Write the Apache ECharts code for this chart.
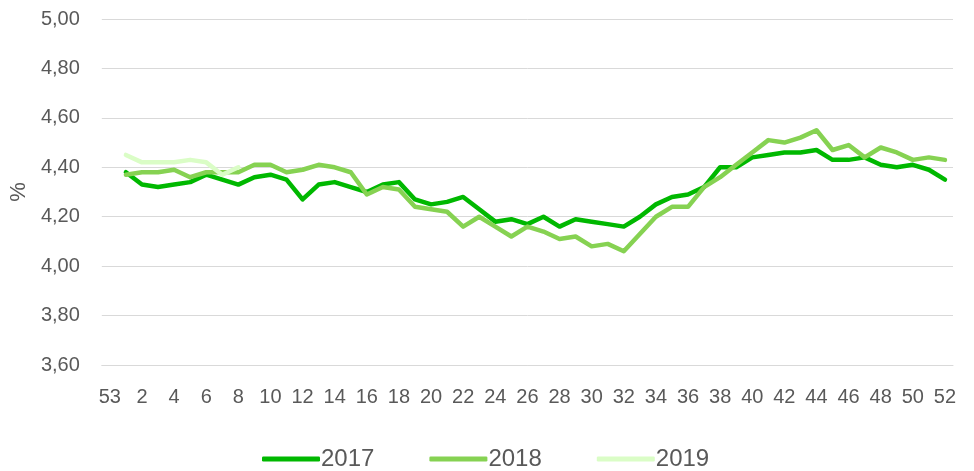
<!DOCTYPE html>
<html>
<head>
<meta charset="utf-8">
<script src="https://cdn.jsdelivr.net/npm/echarts@6/dist/echarts.min.js"></script>
<style>
  html, body { margin: 0; padding: 0; background: #fff; }
  #div_chart { width: 974px; height: 471px; }
</style>
</head>
<body>
<div id="div_chart"></div>
<script>
"use strict";

// week numbers on the x axis (53 = last week of previous year)
const weeks = ["53", "1", "2", "3", "4", "5", "6", "7", "8", "9", "10",
  "11", "12", "13", "14", "15", "16", "17", "18", "19", "20",
  "21", "22", "23", "24", "25", "26", "27", "28", "29", "30",
  "31", "32", "33", "34", "35", "36", "37", "38", "39", "40",
  "41", "42", "43", "44", "45", "46", "47", "48", "49", "50",
  "51", "52"];

const data_2017 = [null,
  4.38, 4.33, 4.32, 4.33, 4.34, 4.37, 4.35, 4.33, 4.36, 4.37,
  4.35, 4.27, 4.33, 4.34, 4.32, 4.30, 4.33, 4.34, 4.27, 4.25,
  4.26, 4.28, 4.23, 4.18, 4.19, 4.17, 4.20, 4.16, 4.19, 4.18,
  4.17, 4.16, 4.20, 4.25, 4.28, 4.29, 4.32, 4.40, 4.40, 4.44,
  4.45, 4.46, 4.46, 4.47, 4.43, 4.43, 4.44, 4.41, 4.40, 4.41,
  4.39, 4.35];

const data_2018 = [null,
  4.37, 4.38, 4.38, 4.39, 4.36, 4.38, 4.38, 4.38, 4.41, 4.41,
  4.38, 4.39, 4.41, 4.40, 4.38, 4.29, 4.32, 4.31, 4.24, 4.23,
  4.22, 4.16, 4.20, 4.16, 4.12, 4.16, 4.14, 4.11, 4.12, 4.08,
  4.09, 4.06, 4.13, 4.20, 4.24, 4.24, 4.32, 4.36, 4.41, 4.46,
  4.51, 4.50, 4.52, 4.55, 4.47, 4.49, 4.44, 4.48, 4.46, 4.43,
  4.44, 4.43];

const data_2019 = [null,
  4.45, 4.42, 4.42, 4.42, 4.43, 4.42, 4.37, 4.40];

const series_names = ["2017", "2018", "2019"];
const series_colors = ["#00b800", "#86d252", "#dafdc6"];
const series_data = [data_2017, data_2018, data_2019];

const html_div_chart = document.getElementById("div_chart");
const chart = echarts.init(html_div_chart);

const font = "'Liberation Sans', Arial, sans-serif";

const series = [];
for (let i = 0; i < series_names.length; i++) {
  series.push({
    type: "line",
    name: series_names[i],
    data: series_data[i],
    showSymbol: false,
    symbol: "none",
    lineStyle: { width: 4.5, color: series_colors[i], cap: "round", join: "round" },
    itemStyle: { color: series_colors[i] },
    animation: false,
  });
}

chart.setOption({
  animation: false,
  grid: { left: 90, right: 21, top: 19, bottom: 106, containLabel: false },
  legend: {
    left: 257,
    top: 442,
    itemWidth: 58,
    itemHeight: 5,
    itemGap: 55,
    icon: "roundRect",
    textStyle: { fontFamily: font, fontSize: 24, color: "#595959", padding: [0, 0, 0, -4] },
    data: series_names,
  },
  xAxis: {
    type: "category",
    data: weeks,
    boundaryGap: true,
    axisLine: { lineStyle: { color: "#d9d9d9", width: 1 } },
    axisTick: { show: false },
    axisLabel: { interval: 1, margin: 22, fontFamily: font, fontSize: 20, color: "#595959" },
  },
  yAxis: {
    type: "value",
    min: 3.6,
    max: 5.0,
    interval: 0.2,
    name: "%",
    nameLocation: "middle",
    nameRotate: 90,
    nameGap: 57,
    nameTextStyle: { fontFamily: font, fontSize: 22, color: "#595959" },
    axisLine: { show: false },
    axisTick: { show: false },
    splitLine: { lineStyle: { color: "#d9d9d9", width: 1 } },
    axisLabel: {
      margin: 22,
      fontFamily: font,
      fontSize: 20,
      color: "#595959",
      formatter: function (v) { return v.toFixed(2).replace(".", ","); },
    },
  },
  series: series,
});
</script>
</body>
</html>
